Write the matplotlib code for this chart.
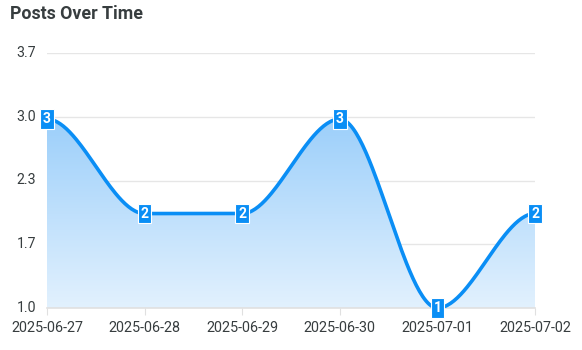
import numpy as np
import matplotlib
matplotlib.use("Agg")
import matplotlib.pyplot as plt
from matplotlib.patches import Polygon
from matplotlib.colors import LinearSegmentedColormap

dates = ["2025-06-27", "2025-06-28", "2025-06-29", "2025-06-30", "2025-07-01", "2025-07-02"]
posts = [3, 2, 2, 3, 1, 2]
y_ticks = [1.0, 1.675, 2.35, 3.025, 3.7]
y_tick_labels = ["1.0", "1.7", "2.3", "3.0", "3.7"]
title = "Posts Over Time"

plt.rcParams['font.family'] = ['Roboto', 'DejaVu Sans']

LINE = "#0a8ef5"
TEXT = "#373d3f"
GRID = "#e6e6e6"


def smooth(x, y, n=60):
    """Monotone cubic Hermite curve with flat tangents at extrema and ends."""
    x = np.asarray(x, float)
    y = np.asarray(y, float)
    h = np.diff(x)
    d = np.diff(y) / h
    m = np.zeros_like(y)
    for k in range(1, len(y) - 1):
        if d[k - 1] * d[k] > 0:
            w1 = 2 * h[k] + h[k - 1]
            w2 = h[k] + 2 * h[k - 1]
            m[k] = (w1 + w2) / (w1 / d[k - 1] + w2 / d[k])
    xs, ys = [], []
    for k in range(len(x) - 1):
        t = np.linspace(0, 1, n, endpoint=(k == len(x) - 2))
        h00 = 2 * t**3 - 3 * t**2 + 1
        h10 = t**3 - 2 * t**2 + t
        h01 = -2 * t**3 + 3 * t**2
        h11 = t**3 - t**2
        xs.append(x[k] + t * h[k])
        ys.append(h00 * y[k] + h10 * h[k] * m[k] + h01 * y[k + 1] + h11 * h[k] * m[k + 1])
    return np.concatenate(xs), np.concatenate(ys)


fig = plt.figure(figsize=(5.82, 3.5), dpi=100)
ax = fig.add_axes([47 / 582, 1 - 308 / 350, (535 - 47) / 582, (308 - 53) / 350])

xi = np.arange(len(dates))
sx, sy = smooth(xi, posts)

ymin, ymax = y_ticks[0], y_ticks[-1]
ax.set_xlim(xi[0], xi[-1])
ax.set_ylim(ymin, ymax)

# gradient fill
cmap = LinearSegmentedColormap.from_list("g", ["#e2f1fe", "#9ccffa"])
grad = np.linspace(0, 1, 256).reshape(-1, 1)
im = ax.imshow(grad, cmap=cmap, aspect="auto", origin="lower",
               extent=[xi[0], xi[-1], ymin, max(posts)], zorder=1)
poly = Polygon(np.column_stack([np.r_[sx, sx[-1], sx[0]], np.r_[sy, ymin, ymin]]),
               closed=True, transform=ax.transData, facecolor="none", edgecolor="none")
ax.add_patch(poly)
im.set_clip_path(poly)

ax.plot(sx, sy, color=LINE, lw=2.6, zorder=3, solid_capstyle="round")

for x, v in zip(xi, posts):
    ax.text(x, v, str(v), ha="center", va="center", color="white", fontsize=10,
            fontweight="bold", zorder=5,
            bbox=dict(boxstyle="square,pad=0.2", facecolor=LINE, edgecolor="white", linewidth=0.8))

ax.set_yticks(y_ticks)
ax.set_yticklabels(y_tick_labels)
ax.set_xticks(xi)
ax.set_xticklabels(dates)
ax.grid(axis="y", color=GRID, lw=1)
ax.set_axisbelow(True)
for s in ["top", "right", "left"]:
    ax.spines[s].set_visible(False)
ax.spines["bottom"].set_color("#e0e0e0")
ax.spines["bottom"].set_linewidth(1.2)
ax.tick_params(axis="y", length=0, pad=8, labelsize=10.2, labelcolor=TEXT)
ax.tick_params(axis="x", length=5, color="#e0e0e0", pad=4, labelsize=10.4, labelcolor=TEXT)
for lbl in ax.get_yticklabels():
    lbl.set_va("center")
    lbl.set_y(0)

fig.text(10 / 582, 1 - 14 / 350, title, fontsize=12.8, fontweight="bold", color=TEXT,
         ha="left", va="center")

fig.savefig("out.png", dpi=100)
